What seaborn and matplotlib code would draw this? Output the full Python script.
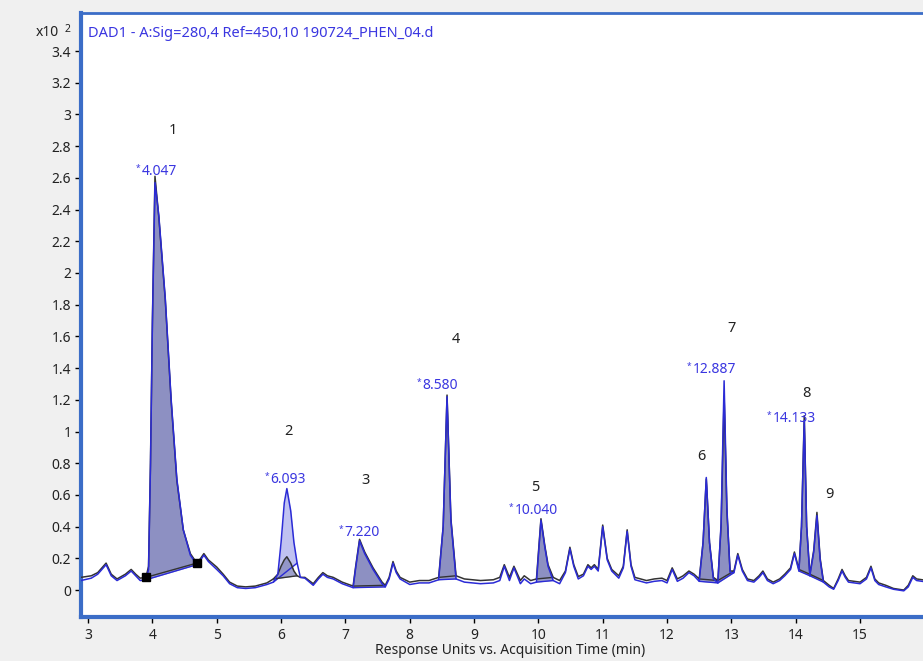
import numpy as np
import pandas as pd
import matplotlib
matplotlib.use("Agg")
import matplotlib.pyplot as plt
import seaborn as sns

# ---------------- data ----------------
time_min = [2.89, 3.05, 3.15, 3.28, 3.36, 3.45, 3.58, 3.67, 3.74, 3.81,
            3.90, 3.94, 3.97, 4.00, 4.04, 4.10, 4.20, 4.29, 4.38, 4.48,
            4.59, 4.69, 4.75, 4.80, 4.87, 5.00, 5.10, 5.20, 5.32, 5.45,
            5.60, 5.78, 5.88, 5.95, 6.00, 6.05, 6.09, 6.15, 6.20, 6.25,
            6.30, 6.37, 6.50, 6.58, 6.65, 6.72, 6.81, 6.95, 7.12, 7.16,
            7.22, 7.30, 7.43, 7.57, 7.62, 7.68, 7.74, 7.79, 7.85, 8.00,
            8.15, 8.30, 8.45, 8.52, 8.58, 8.64, 8.72, 8.85, 9.10, 9.30,
            9.40, 9.47, 9.55, 9.62, 9.72, 9.78, 9.88, 9.97, 10.04, 10.10,
            10.15, 10.23, 10.33, 10.42, 10.49, 10.55, 10.62, 10.70, 10.77, 10.82,
            10.87, 10.93, 11.00, 11.07, 11.14, 11.25, 11.32, 11.38, 11.44, 11.50,
            11.68, 11.80, 11.92, 12.00, 12.08, 12.16, 12.25, 12.34, 12.42, 12.50,
            12.56, 12.61, 12.66, 12.72, 12.79, 12.84, 12.887, 12.93, 12.98, 13.04,
            13.10, 13.17, 13.25, 13.35, 13.43, 13.49, 13.56, 13.65, 13.75, 13.83,
            13.92, 13.98, 14.05, 14.09, 14.133, 14.17, 14.22, 14.28, 14.33, 14.38,
            14.43, 14.52, 14.59, 14.66, 14.72, 14.77, 14.82, 15.00, 15.10, 15.17,
            15.23, 15.29, 15.40, 15.52, 15.68, 15.75, 15.82, 15.88, 16.05]

signal_black = [0.08, 0.09, 0.11, 0.17, 0.10, 0.07, 0.10, 0.13, 0.10, 0.075,
                0.08, 0.15, 0.80, 1.70, 2.61, 2.35, 1.83, 1.20, 0.69, 0.38,
                0.23, 0.17, 0.20, 0.23, 0.19, 0.145, 0.10, 0.05, 0.025, 0.02,
                0.025, 0.045, 0.07, 0.10, 0.15, 0.19, 0.21, 0.17, 0.12, 0.09,
                0.08, 0.08, 0.04, 0.08, 0.11, 0.09, 0.08, 0.05, 0.025, 0.15,
                0.32, 0.24, 0.14, 0.05, 0.03, 0.08, 0.18, 0.12, 0.08, 0.05,
                0.06, 0.06, 0.08, 0.40, 1.23, 0.45, 0.09, 0.07, 0.06, 0.065,
                0.08, 0.16, 0.08, 0.15, 0.06, 0.09, 0.06, 0.07, 0.45, 0.28,
                0.16, 0.08, 0.06, 0.12, 0.27, 0.16, 0.085, 0.10, 0.16, 0.14,
                0.16, 0.13, 0.41, 0.20, 0.13, 0.09, 0.15, 0.38, 0.16, 0.08,
                0.06, 0.07, 0.075, 0.06, 0.14, 0.07, 0.09, 0.12, 0.10, 0.07,
                0.30, 0.70, 0.30, 0.08, 0.06, 0.40, 1.22, 0.50, 0.12, 0.12,
                0.23, 0.13, 0.07, 0.06, 0.09, 0.12, 0.07, 0.05, 0.07, 0.10,
                0.14, 0.24, 0.13, 0.40, 1.10, 0.40, 0.10, 0.25, 0.49, 0.20,
                0.06, 0.03, 0.01, 0.07, 0.13, 0.09, 0.06, 0.05, 0.08, 0.15,
                0.07, 0.045, 0.03, 0.01, 0.00, 0.03, 0.09, 0.07, 0.06]

signal_blue = [0.06, 0.075, 0.10, 0.16, 0.09, 0.06, 0.09, 0.12, 0.09, 0.06,
               0.065, 0.13, 0.78, 1.68, 2.57, 2.36, 1.84, 1.21, 0.70, 0.38,
               0.22, 0.16, 0.19, 0.22, 0.18, 0.13, 0.09, 0.04, 0.015, 0.01,
               0.015, 0.035, 0.05, 0.10, 0.30, 0.55, 0.64, 0.50, 0.30, 0.17,
               0.08, 0.075, 0.03, 0.07, 0.10, 0.08, 0.07, 0.04, 0.015, 0.14,
               0.31, 0.23, 0.13, 0.04, 0.02, 0.07, 0.17, 0.11, 0.07, 0.035,
               0.045, 0.045, 0.065, 0.40, 1.22, 0.44, 0.07, 0.05, 0.04, 0.045,
               0.06, 0.15, 0.06, 0.14, 0.04, 0.07, 0.04, 0.05, 0.44, 0.27,
               0.15, 0.06, 0.04, 0.11, 0.26, 0.15, 0.07, 0.09, 0.15, 0.13,
               0.15, 0.12, 0.40, 0.19, 0.12, 0.075, 0.14, 0.37, 0.15, 0.065,
               0.045, 0.055, 0.06, 0.045, 0.13, 0.055, 0.075, 0.11, 0.09, 0.055,
               0.30, 0.71, 0.30, 0.07, 0.045, 0.42, 1.32, 0.52, 0.11, 0.11,
               0.22, 0.12, 0.06, 0.05, 0.08, 0.11, 0.06, 0.04, 0.06, 0.09,
               0.13, 0.23, 0.12, 0.40, 1.07, 0.40, 0.09, 0.24, 0.47, 0.19,
               0.05, 0.02, 0.005, 0.06, 0.12, 0.08, 0.05, 0.04, 0.07, 0.14,
               0.06, 0.035, 0.02, 0.005, -0.005, 0.02, 0.08, 0.06, 0.05]

# integrated peaks: start / end times of each integration window
peak_start = [3.90, 5.88, 7.12, 8.45, 9.97, 12.50, 12.79, 14.05, 14.22]
peak_end   = [4.69, 6.27, 7.62, 8.72, 10.23, 12.79, 13.04, 14.22, 14.43]
peak_blue_light = [False, True, False, False, False, False, False, False, False]

# peak annotations
peak_numbers = ["1", "2", "3", "4", "5", "6", "7", "8", "9"]
num_x = [4.32, 6.12, 7.32, 8.72, 9.95, 12.53, 13.00, 14.16, 14.53]
num_y = [2.90, 1.00, 0.69, 1.58, 0.65, 0.84, 1.65, 1.24, 0.60]

rt_labels = ["4.047", "6.093", "7.220", "8.580", "10.040", "12.887", "14.133"]
rt_x = [3.74, 5.74, 6.89, 8.10, 9.54, 12.31, 13.55]
rt_y = [2.64, 0.70, 0.36, 1.29, 0.50, 1.39, 1.08]

x_ticks = list(range(3, 16))
y_ticks = [0, 0.2, 0.4, 0.6, 0.8, 1, 1.2, 1.4, 1.6, 1.8, 2, 2.2, 2.4, 2.6, 2.8, 3, 3.2, 3.4]

title_text = "DAD1 - A:Sig=280,4 Ref=450,10 190724_PHEN_04.d"
x_label = "Response Units vs. Acquisition Time (min)"

# ---------------- styling ----------------
sns.set_style("white")
plt.rcParams['font.family'] = ['Noto Sans', 'DejaVu Sans']

BLACK_LINE = "#333333"
BLUE_LINE = "#2b2bd6"
FILL_DARK = "#8c8fc2"
FILL_LIGHT = "#b9bcf0"
LABEL_BLUE = "#3a36e0"
FRAME = "#3b6dc7"

fig = plt.figure(figsize=(9.23, 6.61), dpi=100, facecolor="#f0f0f0")
ax = fig.add_axes([81 / 923, 44 / 661, 0.93, 604 / 661])
ax.set_facecolor("white")

df = pd.DataFrame({
    "time": time_min * 2,
    "response": signal_black + signal_blue,
    "trace": ["ref"] * len(time_min) + ["sig"] * len(time_min),
})

t = np.array(time_min)
yb = np.array(signal_black)
yl = np.array(signal_blue)

# peak fills
for s, e, light in zip(peak_start, peak_end, peak_blue_light):
    m = (t >= s - 1e-9) & (t <= e + 1e-9)
    tt = t[m]
    for trace, is_black in ((yl, False), (yb, True)):
        col = FILL_LIGHT if (light and not is_black) else FILL_DARK
        seg = trace[m]
        base = np.interp(tt, [tt[0], tt[-1]], [seg[0], seg[-1]])
        ax.fill_between(tt, base, seg, color=col, alpha=0.85 if is_black else 0.9,
                        lw=0, zorder=1)
        ax.plot([tt[0], tt[-1]], [seg[0], seg[-1]],
                color=BLACK_LINE if is_black else BLUE_LINE, lw=1.0, zorder=2)

sns.lineplot(data=df, x="time", y="response", hue="trace",
             palette={"ref": BLACK_LINE, "sig": BLUE_LINE},
             estimator=None, sort=False, legend=False, lw=1.1, ax=ax, zorder=3)

# integration markers for peak 1
ax.plot([peak_start[0], peak_end[0]],
        [np.interp(peak_start[0], t, yb), np.interp(peak_end[0], t, yb)],
        ls="none", marker="s", ms=6, color="black", zorder=4)

# annotations
for lab, x, y in zip(peak_numbers, num_x, num_y):
    ax.text(x, y, lab, fontsize=10.5, color="#222222", ha="center", va="center", zorder=5)
for lab, x, y in zip(rt_labels, rt_x, rt_y):
    ax.text(x, y + 0.02, "*", fontsize=6, color=LABEL_BLUE, ha="left", va="center", zorder=5)
    ax.text(x + 0.09, y, lab, fontsize=10, color=LABEL_BLUE, ha="left", va="center", zorder=5)

ax.text(0.008, 0.978, title_text, transform=ax.transAxes, fontsize=10.5,
        color=LABEL_BLUE, ha="left", va="top")

# axes
ax.set_xlim(2.89, 2.89 + 0.93 * 923 / 64.33)
ax.set_ylim(-0.17, 3.64)
ax.set_xticks(x_ticks)
ax.set_xticklabels([str(v) for v in x_ticks])
ax.set_yticks(y_ticks)
ax.set_yticklabels(["%g" % v for v in y_ticks])
ax.tick_params(axis="both", which="both", direction="out", length=4, width=1,
               color="black", labelsize=10, labelcolor="#222222", pad=3,
               left=True, bottom=True)
ax.tick_params(axis="x", pad=4)
ax.set_xlabel(x_label, fontsize=10, color="#222222", labelpad=0)
ax.set_ylabel("")

for side in ("left", "bottom"):
    ax.spines[side].set_color(FRAME)
    ax.spines[side].set_linewidth(3)
ax.spines["top"].set_color(FRAME)
ax.spines["top"].set_linewidth(2)
ax.spines["right"].set_visible(False)

fig.text(36 / 923, 1 - 33 / 661, "x10", fontsize=10, color="#222222", ha="left", va="center")
fig.text(65 / 923, 1 - 29 / 661, "2", fontsize=7.5, color="#222222", ha="left", va="center")

fig.savefig("out.png", dpi=100, facecolor=fig.get_facecolor())
